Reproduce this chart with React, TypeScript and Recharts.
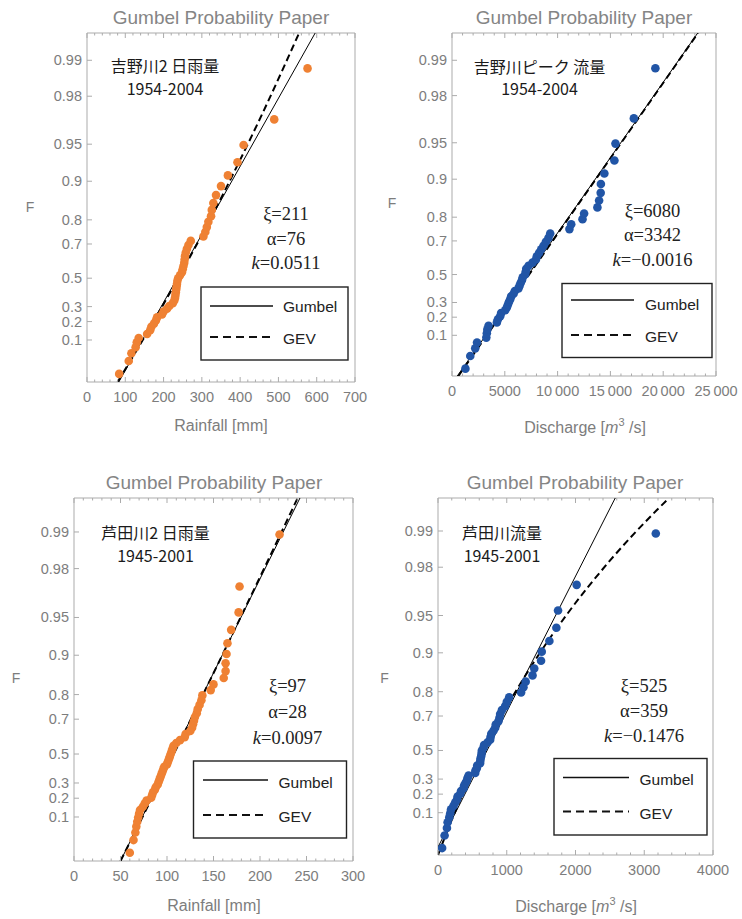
import React from 'react';
import { ComposedChart, Scatter, Line, XAxis, YAxis, ReferenceArea } from 'recharts';

// ---------- data ----------
// probability (F) tick labels of the Gumbel paper
const fTickLabels = ['0.1', '0.2', '0.3', '0.5', '0.7', '0.8', '0.9', '0.95', '0.98', '0.99'];

// plotting positions F of the ranked annual maxima, 1954-2004 (51 years)
const fYoshino = [0.0117, 0.0313, 0.0508, 0.0703, 0.0898, 0.1094, 0.1289, 0.1484, 0.1680, 0.1875,
  0.2070, 0.2266, 0.2461, 0.2656, 0.2852, 0.3047, 0.3242, 0.3438, 0.3633, 0.3828,
  0.4023, 0.4219, 0.4414, 0.4609, 0.4805, 0.5000, 0.5195, 0.5391, 0.5586, 0.5781,
  0.5977, 0.6172, 0.6367, 0.6563, 0.6758, 0.6953, 0.7148, 0.7344, 0.7539, 0.7734,
  0.7930, 0.8125, 0.8320, 0.8516, 0.8711, 0.8906, 0.9102, 0.9297, 0.9492, 0.9688, 0.9883];

// plotting positions F, 1945-2001 (57 years)
const fAshida = [0.0105, 0.0280, 0.0455, 0.0629, 0.0804, 0.0979, 0.1154, 0.1329, 0.1503, 0.1678,
  0.1853, 0.2028, 0.2203, 0.2378, 0.2552, 0.2727, 0.2902, 0.3077, 0.3252, 0.3427,
  0.3601, 0.3776, 0.3951, 0.4126, 0.4301, 0.4476, 0.4650, 0.4825, 0.5000, 0.5175,
  0.5350, 0.5524, 0.5699, 0.5874, 0.6049, 0.6224, 0.6399, 0.6573, 0.6748, 0.6923,
  0.7098, 0.7273, 0.7448, 0.7622, 0.7797, 0.7972, 0.8147, 0.8322, 0.8497, 0.8671,
  0.8846, 0.9021, 0.9196, 0.9371, 0.9545, 0.9720, 0.9895];

// ranked values read from the paper
const yoshinoRainfall = [84, 109, 116, 127, 130, 135, 157, 165, 168, 175,
  180, 183, 196, 200, 209, 215, 224, 228, 230, 231,
  232, 233, 234, 235, 236, 238, 243, 248, 250, 252,
  254, 255, 256, 258, 261, 265, 271, 304, 309, 313,
  317, 324, 326, 330, 337, 350, 368, 393, 409, 489, 576];

const yoshinoDischarge = [1270, 1730, 2200, 2370, 3250, 3300, 3350, 3460, 4250, 4350,
  4570, 4650, 5040, 5200, 5300, 5400, 5520, 5600, 5830, 5950,
  6300, 6400, 6500, 6620, 6700, 6930, 6980, 7030, 7250, 7630,
  7950, 8040, 8250, 8450, 8670, 8890, 9140, 9300, 11120, 11290,
  12360, 12510, 13770, 13930, 14080, 14100, 14430, 15380, 15480, 17220, 19260];

const ashidaRainfall = [60, 64, 66, 67, 68, 69, 70, 71, 74, 76,
  78, 83, 84, 85, 87, 88, 90, 91, 92, 93,
  94, 95, 96, 97, 100, 101, 102, 103, 104, 105,
  106, 107, 110, 114, 119, 120, 125, 127, 128, 129,
  130, 132, 133, 135, 137, 138, 147, 150, 161, 163,
  163, 164, 165, 169, 177, 178, 221];

const ashidaDischarge = [60, 96, 130, 140, 164, 178, 190, 226, 250, 276,
  285, 324, 335, 372, 380, 400, 420, 430, 445, 541,
  545, 566, 570, 612, 615, 620, 630, 635, 638, 662,
  670, 720, 759, 765, 775, 807, 832, 840, 880, 895,
  904, 929, 977, 1001, 1035, 1209, 1243, 1275, 1375, 1400,
  1499, 1509, 1620, 1722, 1746, 2017, 3168];

// fitted lines read from the paper (x at reduced variate y)
const gumbelYoshinoRain = [{ x: 83, y: -1.65 }, { x: 596, y: 5.13 }];
const gevYoshinoRain = [{ x: 80, y: -1.65 }, { x: 172, y: -0.5 }, { x: 248, y: 0.5 }, { x: 321, y: 1.5 },
  { x: 389, y: 2.5 }, { x: 454, y: 3.5 }, { x: 516, y: 4.5 }, { x: 554, y: 5.13 }];
const gumbelYoshinoQ = [{ x: 500, y: -1.638 }, { x: 23270, y: 5.139 }];
const gevYoshinoQ = [{ x: 606, y: -1.638 }, { x: 6080, y: 0 }, { x: 9425, y: 1 }, { x: 12775, y: 2 },
  { x: 16130, y: 3 }, { x: 19491, y: 4 }, { x: 23295, y: 5.139 }];
const gumbelAshidaRain = [{ x: 50, y: -1.673 }, { x: 243, y: 5.248 }];
const gevAshidaRain = [{ x: 50, y: -1.673 }, { x: 97, y: 0 }, { x: 152.5, y: 2 }, { x: 207, y: 4 }, { x: 240.5, y: 5.248 }];
const gumbelAshidaQ = [{ x: 0, y: -1.498 }, { x: 2578, y: 5.237 }];
const gevAshidaQ = [{ x: 0, y: -1.65 }, { x: 191, y: -1 }, { x: 525, y: 0 }, { x: 912, y: 1 }, { x: 1360, y: 2 },
  { x: 1880, y: 3 }, { x: 2482, y: 4 }, { x: 3180, y: 5 }, { x: 3361, y: 5.237 }];

// axis tick labels
const rainTLTicks = [0, 100, 200, 300, 400, 500, 600, 700];
const rainTLLabels = ['0', '100', '200', '300', '400', '500', '600', '700'];
const qTRTicks = [0, 5000, 10000, 15000, 20000, 25000];
const qTRLabels = ['0', '5000', '10\u2009000', '15\u2009000', '20\u2009000', '25\u2009000'];
const rainBLTicks = [0, 50, 100, 150, 200, 250, 300];
const rainBLLabels = ['0', '50', '100', '150', '200', '250', '300'];
const qBRTicks = [0, 1000, 2000, 3000, 4000];
const qBRLabels = ['0', '1000', '2000', '3000', '4000'];

// ---------- helpers ----------
const reduced = (F: number) => -Math.log(-Math.log(F));
const toPoints = (xs: number[], fs: number[]) => xs.map((x, i) => ({ x, y: reduced(fs[i]) }));

const SANS = "'Liberation Sans', Arial, sans-serif";
const SERIF = "'Liberation Serif', 'Times New Roman', serif";
const CJK = "'Noto Sans CJK JP', sans-serif";
const FRAME_C = '#ababab';
const TICK_C = '#7d7d7d';
const TITLE_C = '#858585';
const ORANGE = '#EF8133';
const BLUE = '#2155A6';

type Pt = { x: number; y: number };

function makeTicks(max: number, step: number) {
  const out: number[] = [];
  for (let i = 0; i * step <= max + 1e-9; i++) out.push(i * step);
  return out;
}

function ProbPanel(props: {
  fx: number; fy: number; fw: number; fh: number;
  xMax: number; xMajor: number[]; xLabels: string[]; xStep: number;
  yDomain: [number, number]; pts: Pt[]; color: string; gumbel: Pt[]; gev: Pt[];
}) {
  const { fx, fy, fw, fh, xMax, xMajor, xLabels, xStep, yDomain, pts, color, gumbel, gev } = props;
  const ML = 60, MR = 28, MT = 12, MB = 36;
  const W = fw + ML + MR;
  const H = fh + MT + MB;
  const xTicks = makeTicks(xMax, xStep);
  const yTicks = fTickLabels.map((s) => reduced(parseFloat(s)));

  const XTick = (p: any) => {
    const v = p.payload.value;
    const idx = xMajor.findIndex((m) => Math.abs(m - v) < 1e-6);
    const len = idx >= 0 ? 5 : 2.5;
    return (
      <g>
        <line x1={p.x} x2={p.x} y1={p.y} y2={p.y - len} stroke={FRAME_C} strokeWidth={1} />
        <line x1={p.x} x2={p.x} y1={p.y - fh} y2={p.y - fh + len} stroke={FRAME_C} strokeWidth={1} />
        {idx >= 0 && (
          <text x={p.x} y={p.y + 19.5} textAnchor="middle" fontFamily={SANS} fontSize={14.5} fill={TICK_C}>
            {xLabels[idx]}
          </text>
        )}
      </g>
    );
  };
  const YTick = (p: any) => {
    const idx = yTicks.findIndex((t) => Math.abs(t - p.payload.value) < 1e-6);
    return (
      <g>
        <line x1={p.x} x2={p.x + 5} y1={p.y} y2={p.y} stroke={FRAME_C} strokeWidth={1} />
        <text x={p.x - 5} y={p.y + 5} textAnchor="end" fontFamily={SANS} fontSize={14.5} fill={TICK_C}>
          {idx >= 0 ? fTickLabels[idx] : ''}
        </text>
      </g>
    );
  };
  const Dot = (p: any) => <circle cx={p.cx} cy={p.cy} r={4.3} fill={color} />;

  return (
    <div style={{ position: 'absolute', left: fx - ML, top: fy - MT }}>
      <ComposedChart width={W} height={H} margin={{ top: MT, right: MR, bottom: 0, left: 0 }}>
        <XAxis type="number" dataKey="x" domain={[0, xMax]} ticks={xTicks} interval={0}
          tickSize={0} tickMargin={0} tickLine={false} axisLine={false} tick={XTick}
          height={MB} allowDataOverflow />
        <YAxis type="number" dataKey="y" domain={yDomain} ticks={yTicks} interval={0}
          tickSize={0} tickMargin={0} tickLine={false} axisLine={false} tick={YTick}
          width={ML} allowDataOverflow />
        <ReferenceArea x1={0} x2={xMax} y1={yDomain[0]} y2={yDomain[1]} fill="none" fillOpacity={0}
          stroke={FRAME_C} strokeWidth={1} ifOverflow="visible" />
        <Scatter data={pts} dataKey="y" fill={color} shape={Dot} isAnimationActive={false} />
        <Line data={gumbel} dataKey="y" type="linear" stroke="#000" strokeWidth={1} dot={false}
          activeDot={false} isAnimationActive={false} />
        <Line data={gev} dataKey="y" type="monotone" stroke="#000" strokeWidth={2} strokeDasharray="7 4"
          dot={false} activeDot={false} isAnimationActive={false} />
      </ComposedChart>
    </div>
  );
}

type Ann = {
  title: [number, number]; F: [number, number]; xlab: [number, number]; discharge: boolean;
  jp: [string, string]; jpX: number; jpY: [number, number];
  params: [string, string, string]; pX: number; pY: [number, number, number];
  box: [number, number, number, number]; lx: [number, number]; ly: [number, number]; tx: number; ty: [number, number];
};

const annotations: Ann[] = [
  {
    title: [221, 23.5], F: [30, 212], xlab: [221, 431], discharge: false,
    jp: ['吉野川2 日雨量', '1954-2004'], jpX: 165, jpY: [72, 95],
    params: ['211', '76', '0.0511'], pX: 286, pY: [220, 244.5, 269],
    box: [201, 287, 147, 73], lx: [210, 273], ly: [306, 337], tx: 283, ty: [311.5, 343.5],
  },
  {
    title: [584, 23.5], F: [392, 207.5], xlab: [585, 432.5], discharge: true,
    jp: ['吉野川ピーク 流量', '1954-2004'], jpX: 539.5, jpY: [72.5, 95],
    params: ['6080', '3342', '\u22120.0016'], pX: 652.5, pY: [217, 240.5, 265.5],
    box: [562, 283.5, 150, 74], lx: [571, 634], ly: [300, 335], tx: 645, ty: [310, 341.5],
  },
  {
    title: [214, 488.5], F: [16, 682.5], xlab: [214, 911], discharge: false,
    jp: ['芦田川2 日雨量', '1945-2001'], jpX: 155.5, jpY: [539, 561.5],
    params: ['97', '28', '0.0097'], pX: 287.5, pY: [692, 718.3, 744],
    box: [193.5, 761, 153, 77], lx: [203, 268], ly: [780, 815], tx: 278.5, ty: [787.5, 821.5],
  },
  {
    title: [575, 488.5], F: [384.5, 682.5], xlab: [576, 912], discharge: true,
    jp: ['芦田川流量', '1945-2001'], jpX: 502, jpY: [538.5, 561.5],
    params: ['525', '359', '\u22120.1476'], pX: 644, pY: [692, 716.5, 741.5],
    box: [554, 758.5, 153, 76.5], lx: [563, 629], ly: [777.5, 811.5], tx: 639.5, ty: [785, 819],
  },
];

function Overlay() {
  return (
    <svg width={742} height={919} style={{ position: 'absolute', left: 0, top: 0, pointerEvents: 'none' }}>
      {annotations.map((a, i) => (
        <g key={i}>
          <text x={a.title[0]} y={a.title[1]} textAnchor="middle" fontFamily={SANS} fontSize={19} fill={TITLE_C}>
            Gumbel Probability Paper
          </text>
          <text x={a.F[0]} y={a.F[1]} textAnchor="middle" fontFamily={SANS} fontSize={14} fill={TICK_C}>F</text>
          {a.discharge ? (
            <text x={a.xlab[0]} y={a.xlab[1]} textAnchor="middle" fontFamily={SANS} fontSize={16} fill={TICK_C}>
              Discharge [<tspan fontStyle="italic">m</tspan>
              <tspan dy={-7} fontSize={11}>3</tspan>
              <tspan dy={7}> /s]</tspan>
            </text>
          ) : (
            <text x={a.xlab[0]} y={a.xlab[1]} textAnchor="middle" fontFamily={SANS} fontSize={16} fill={TICK_C}>
              Rainfall [mm]
            </text>
          )}
          <text x={a.jpX} y={a.jpY[0]} textAnchor="middle" fontFamily={CJK} fontSize={16} fill="#1a1a1a">{a.jp[0]}</text>
          <text x={a.jpX} y={a.jpY[1]} textAnchor="middle" fontFamily={CJK} fontSize={16} fill="#1a1a1a">{a.jp[1]}</text>
          <text x={a.pX} y={a.pY[0]} textAnchor="middle" fontFamily={SERIF} fontSize={18.5} fill="#222">{'ξ=' + a.params[0]}</text>
          <text x={a.pX} y={a.pY[1]} textAnchor="middle" fontFamily={SERIF} fontSize={18.5} fill="#222">{'α=' + a.params[1]}</text>
          <text x={a.pX} y={a.pY[2]} textAnchor="middle" fontFamily={SERIF} fontSize={18.5} fill="#222">
            <tspan fontStyle="italic">k</tspan>{'=' + a.params[2]}
          </text>
          <rect x={a.box[0]} y={a.box[1]} width={a.box[2]} height={a.box[3]} fill="#fff" stroke="#222" strokeWidth={1.4} />
          <line x1={a.lx[0]} x2={a.lx[1]} y1={a.ly[0]} y2={a.ly[0]} stroke="#111" strokeWidth={1.6} />
          <line x1={a.lx[0]} x2={a.lx[1]} y1={a.ly[1]} y2={a.ly[1]} stroke="#111" strokeWidth={2} strokeDasharray="8 5" />
          <text x={a.tx} y={a.ty[0]} fontFamily={SANS} fontSize={15.5} fill="#222">Gumbel</text>
          <text x={a.tx} y={a.ty[1]} fontFamily={SANS} fontSize={15.5} fill="#222">GEV</text>
        </g>
      ))}
    </svg>
  );
}

export default function App() {
  return (
    <div style={{ position: 'absolute', left: 0, top: 0, width: 742, height: 919, background: '#fff', overflow: 'hidden' }}>
      <ProbPanel fx={87} fy={33} fw={268} fh={349} xMax={700} xMajor={rainTLTicks} xLabels={rainTLLabels} xStep={20}
        yDomain={[-1.65, 5.13]} pts={toPoints(yoshinoRainfall, fYoshino)} color={ORANGE}
        gumbel={gumbelYoshinoRain} gev={gevYoshinoRain} />
      <ProbPanel fx={452} fy={33} fw={264} fh={343} xMax={25000} xMajor={qTRTicks} xLabels={qTRLabels} xStep={1000}
        yDomain={[-1.638, 5.139]} pts={toPoints(yoshinoDischarge, fYoshino)} color={BLUE}
        gumbel={gumbelYoshinoQ} gev={gevYoshinoQ} />
      <ProbPanel fx={74} fy={498} fw={279} fh={363} xMax={300} xMajor={rainBLTicks} xLabels={rainBLLabels} xStep={10}
        yDomain={[-1.673, 5.248]} pts={toPoints(ashidaRainfall, fAshida)} color={ORANGE}
        gumbel={gumbelAshidaRain} gev={gevAshidaRain} />
      <ProbPanel fx={438} fy={498} fw={275} fh={357} xMax={4000} xMajor={qBRTicks} xLabels={qBRLabels} xStep={200}
        yDomain={[-1.65, 5.237]} pts={toPoints(ashidaDischarge, fAshida)} color={BLUE}
        gumbel={gumbelAshidaQ} gev={gevAshidaQ} />
      <Overlay />
    </div>
  );
}
